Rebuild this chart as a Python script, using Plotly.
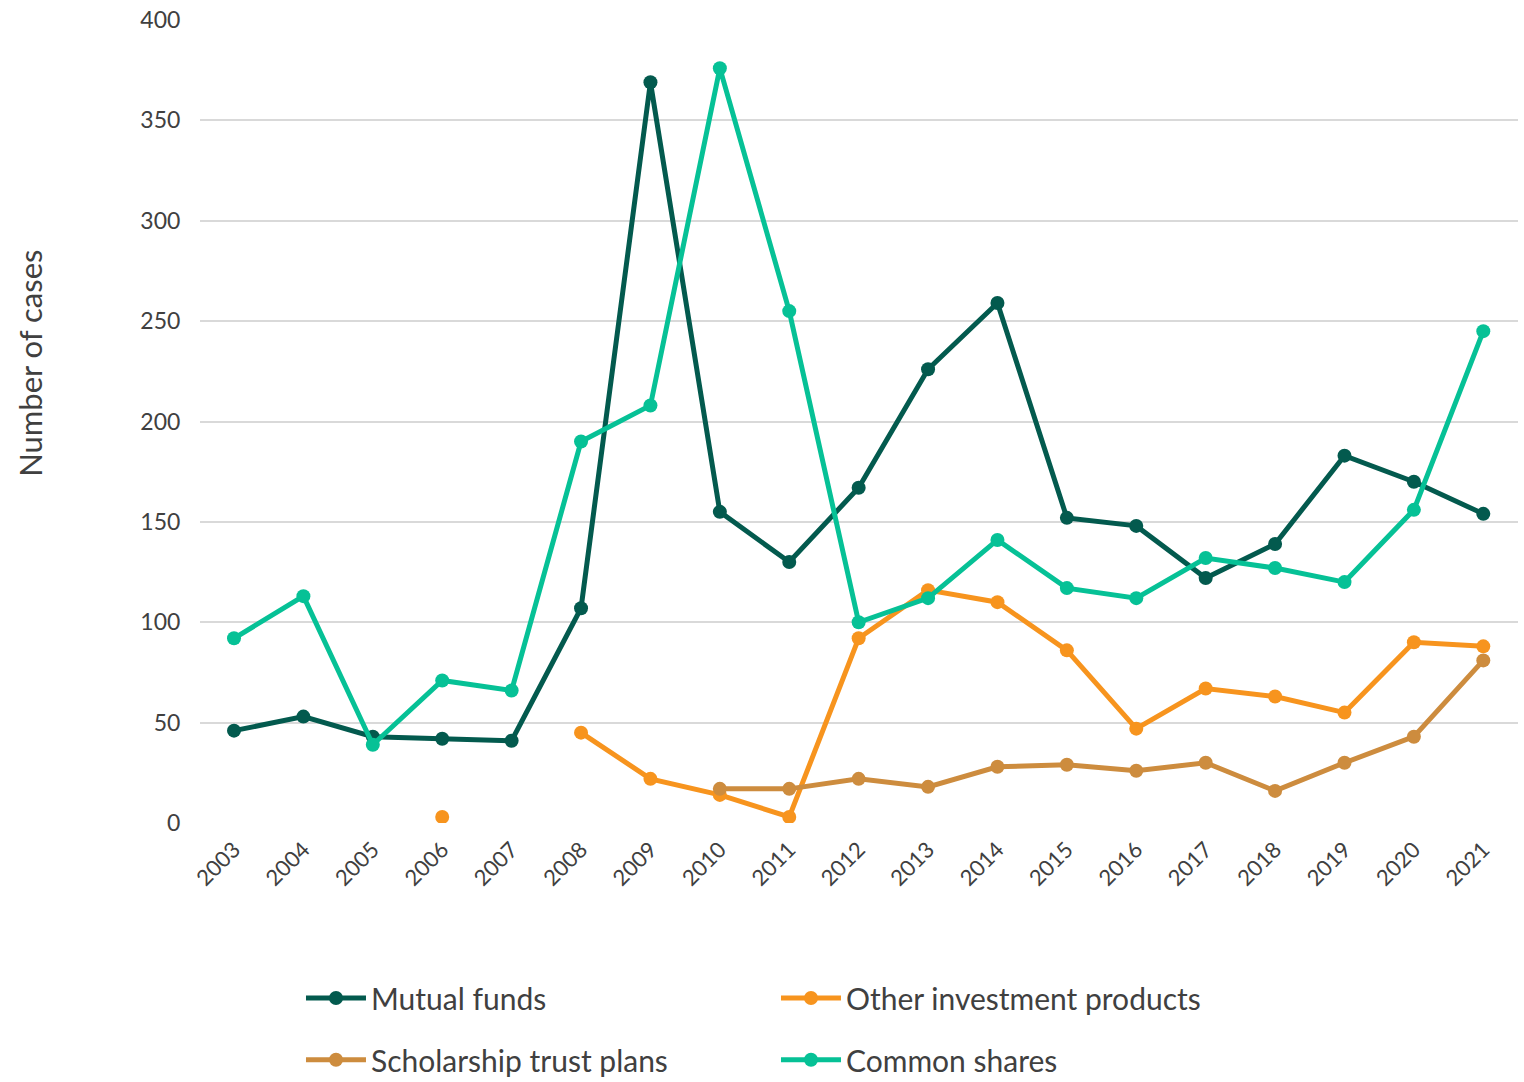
import plotly.graph_objects as go

years = [str(y) for y in range(2003, 2022)]

mutual_funds = [46, 53, 43, 42, 41, 107, 369, 155, 130, 167, 226, 259, 152, 148, 122, 139, 183, 170, 154]
other_products = [None, None, None, 3, None, 45, 22, 14, 3, 92, 116, 110, 86, 47, 67, 63, 55, 90, 88]
scholarship_plans = [None, None, None, None, None, None, None, 17, 17, 22, 18, 28, 29, 26, 30, 16, 30, 43, 81]
common_shares = [92, 113, 39, 71, 66, 190, 208, 376, 255, 100, 112, 141, 117, 112, 132, 127, 120, 156, 245]

series = [
    ("Mutual funds", mutual_funds, "#035a4e", "legend"),
    ("Other investment products", other_products, "#f7941e", "legend"),
    ("Scholarship trust plans", scholarship_plans, "#cd8c3e", "legend2"),
    ("Common shares", common_shares, "#06c196", "legend2"),
]

FONT = "Lato, 'Open Sans', sans-serif"
TEXT = "#404040"

fig = go.Figure()
for name, vals, color, leg in series:
    fig.add_trace(go.Scatter(
        x=years, y=vals, name=name, mode="lines+markers",
        line=dict(color=color, width=5),
        marker=dict(color=color, size=14),
        connectgaps=False, legend=leg,
    ))

legend_style = dict(
    orientation="h", xref="container", yref="container",
    xanchor="left", yanchor="middle",
    font=dict(family=FONT, size=30, color=TEXT),
    entrywidth=400, entrywidthmode="pixels",
    bgcolor="rgba(0,0,0,0)", itemwidth=60,
)

fig.update_layout(
    width=1524, height=1082,
    margin=dict(l=200, r=6, t=20, b=259, autoexpand=False),
    plot_bgcolor="white", paper_bgcolor="white",
    font=dict(family=FONT, color=TEXT),
    xaxis=dict(
        type="category", tickangle=-45, showgrid=False,
        range=[-0.49, 18.5],
        tickfont=dict(family=FONT, size=22, color=TEXT),
        ticks="outside", ticklen=4, tickcolor="white",
        showline=False, zeroline=False,
    ),
    yaxis=dict(
        range=[0, 400], dtick=50, showgrid=True, gridcolor="#d9d9d9",
        gridwidth=2, zeroline=False, showline=False, ticks="outside",
        ticklen=14, tickcolor="white",
        tickfont=dict(family=FONT, size=23, color=TEXT),
    ),
    legend=dict(x=0.1975, y=0.0776, **legend_style),
    legend2=dict(x=0.1975, y=0.0205, **legend_style),
    annotations=[dict(
        text="Number of cases", textangle=-90, showarrow=False,
        xref="paper", yref="paper", x=-0.129, y=0.573,
        xanchor="center", yanchor="middle",
        font=dict(family=FONT, size=31, color=TEXT),
    )],
)

fig.write_html("out.html")
